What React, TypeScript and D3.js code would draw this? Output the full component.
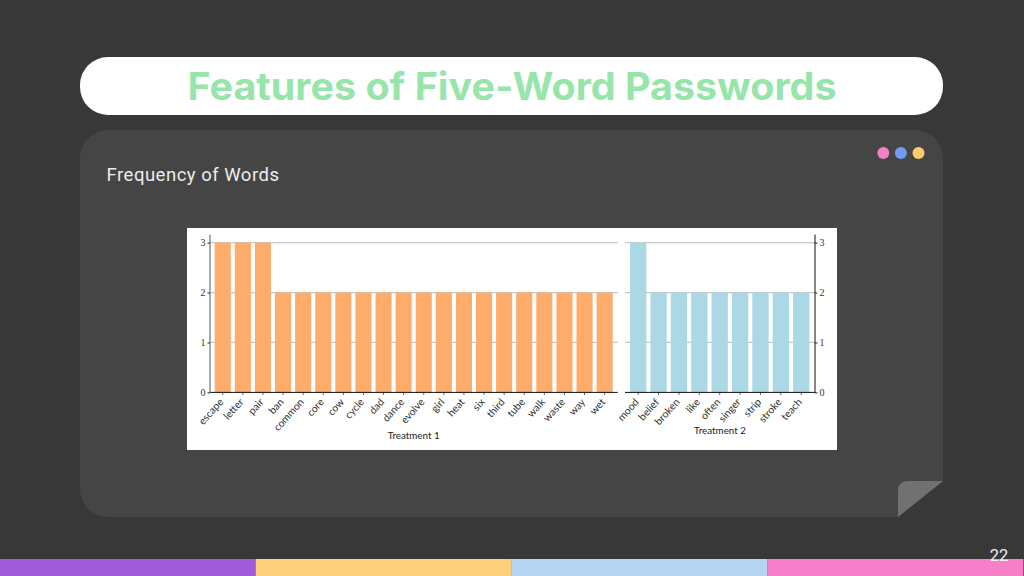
import { useRef, useEffect } from 'react';
import * as d3 from 'd3';

const wordsT1 = ['escape', 'letter', 'pair', 'ban', 'common', 'core', 'cow', 'cycle', 'dad', 'dance', 'evolve', 'girl', 'heat', 'six', 'third', 'tube', 'walk', 'waste', 'way', 'wet'];
const countsT1 = [3, 3, 3, 2, 2, 2, 2, 2, 2, 2, 2, 2, 2, 2, 2, 2, 2, 2, 2, 2];
const wordsT2 = ['mood', 'belief', 'broken', 'like', 'often', 'singer', 'strip', 'stroke', 'teach'];
const countsT2 = [3, 2, 2, 2, 2, 2, 2, 2, 2];
const yTicks = [0, 1, 2, 3];
const footerColors = ['#9f5bd9', '#fdd07c', '#b5d5f0', '#f77fc9'];
const dotColors = ['#f47fc6', '#6f9df5', '#fbcb6e'];

const labelFont = 'Lato, sans-serif';
const numFont = '"Liberation Serif", serif';

function drawChart(node: SVGGElement) {
  const svg = d3.select(node);
  svg.selectAll('*').remove();

  const y = d3.scaleLinear().domain([0, 3]).range([392.4, 242.6]);
  const x1 = d3.scaleBand().domain(wordsT1).range([212.7, 614.7]).paddingInner(0.2).paddingOuter(0.1);
  const x2 = d3.scaleBand().domain(wordsT2).range([628, 811.4]).paddingInner(0.2).paddingOuter(0.1);

  const panels = [
    { words: wordsT1, counts: countsT1, x: x1, color: '#fdac6b', left: 210, right: 617.7, title: 'Treatment 1', titleX: 413.7, titleY: 439 },
    { words: wordsT2, counts: countsT2, x: x2, color: '#acd8e6', left: 625, right: 815, title: 'Treatment 2', titleX: 720, titleY: 433.5 },
  ];

  panels.forEach((p) => {
    // grid under the bars
    svg.append('g')
      .selectAll('line')
      .data(yTicks.slice(1))
      .enter()
      .append('line')
      .attr('x1', p.left)
      .attr('x2', p.right)
      .attr('y1', (d) => y(d))
      .attr('y2', (d) => y(d))
      .attr('stroke', '#c8c8c8')
      .attr('stroke-width', 1.3);

    svg.append('g')
      .selectAll('rect')
      .data(p.words)
      .enter()
      .append('rect')
      .attr('x', (d) => p.x(d)!)
      .attr('y', (_, i) => y(p.counts[i]))
      .attr('width', p.x.bandwidth())
      .attr('height', (_, i) => y(0) - y(p.counts[i]))
      .attr('fill', p.color);

    const axis = svg.append('g')
      .attr('transform', `translate(0,${y(0)})`)
      .call(d3.axisBottom(p.x).tickSize(2.5));
    axis.select('.domain').remove();
    axis.selectAll('.tick line').attr('stroke', '#333').attr('stroke-width', 0.8);
    axis.selectAll('text')
      .attr('x', 0)
      .attr('y', 0)
      .attr('dy', '0.3em')
      .attr('font-family', labelFont)
      .attr('font-size', 10.3)
      .attr('fill', '#333')
      .attr('text-anchor', 'end')
      .attr('transform', 'translate(-1,8) rotate(-48)');

    svg.append('line')
      .attr('x1', p.left)
      .attr('x2', p.right)
      .attr('y1', y(0))
      .attr('y2', y(0))
      .attr('stroke', '#111')
      .attr('stroke-width', 1);

    svg.append('text')
      .attr('x', p.titleX)
      .attr('y', p.titleY)
      .attr('text-anchor', 'middle')
      .attr('font-family', labelFont)
      .attr('font-size', 9.8)
      .attr('fill', '#222')
      .text(p.title);
  });

  const yLeft = svg.append('g')
    .attr('transform', 'translate(210,0)')
    .call(d3.axisLeft(y).tickValues(yTicks).tickFormat(d3.format('d')).tickSize(2.5).tickPadding(2));
  const yRight = svg.append('g')
    .attr('transform', 'translate(815,0)')
    .call(d3.axisRight(y).tickValues(yTicks).tickFormat(d3.format('d')).tickSize(2.5).tickPadding(2));

  [yLeft, yRight].forEach((a) => {
    a.select('.domain').remove();
    a.selectAll('.tick line').attr('stroke', '#222').attr('stroke-width', 1);
    a.selectAll('text').attr('font-family', numFont).attr('font-size', 10).attr('fill', '#333');
  });

  // axis spines run above the 3 tick
  [210, 815].forEach((ax) => {
    svg.append('line')
      .attr('x1', ax)
      .attr('x2', ax)
      .attr('y1', 234.6)
      .attr('y2', y(0) + 0.5)
      .attr('stroke', ax === 210 ? '#555' : '#111')
      .attr('stroke-width', 1);
  });
}

export default function App() {
  const ref = useRef<SVGGElement>(null);

  useEffect(() => {
    if (!ref.current) return;
    drawChart(ref.current);
  }, []);

  return (
    <svg width={1024} height={576} style={{ position: 'fixed', left: 0, top: 0 }}>
      <rect width={1024} height={576} fill="#383838" />
      <rect x={80} y={57} width={863} height={58} rx={28} fill="#fff" />
      <text x={512} y={100} textAnchor="middle" fontFamily="Inter, sans-serif" fontWeight={700} fontSize={38} fill="#98e5ab" textLength={649} lengthAdjust="spacingAndGlyphs">
        Features of Five-Word Passwords
      </text>
      <path d="M108 130H915A28 28 0 0 1 943 158V481L898 517H108A28 28 0 0 1 80 489V158A28 28 0 0 1 108 130Z" fill="#454545" />
      <path d="M943 481H908Q898 481 898 491V517Z" fill="#717171" />
      {dotColors.map((c, i) => (
        <circle key={c} cx={883.3 + i * 17.6} cy={153} r={6} fill={c} />
      ))}
      <text x={106.5} y={181} fontFamily="Roboto, sans-serif" fontWeight={400} fontSize={18.5} letterSpacing={0.5} fill="#ececec">
        Frequency of Words
      </text>
      <rect x={187} y={228} width={650} height={222} fill="#fff" />
      <g ref={ref} />
      {footerColors.map((c, i) => (
        <rect key={c} x={i * 255.8} y={559} width={256} height={17} fill={c} />
      ))}
      <text x={999} y={560.5} textAnchor="middle" fontFamily="Roboto, sans-serif" fontWeight={400} fontSize={16.5} fill="#f0f0f0">
        22
      </text>
    </svg>
  );
}
